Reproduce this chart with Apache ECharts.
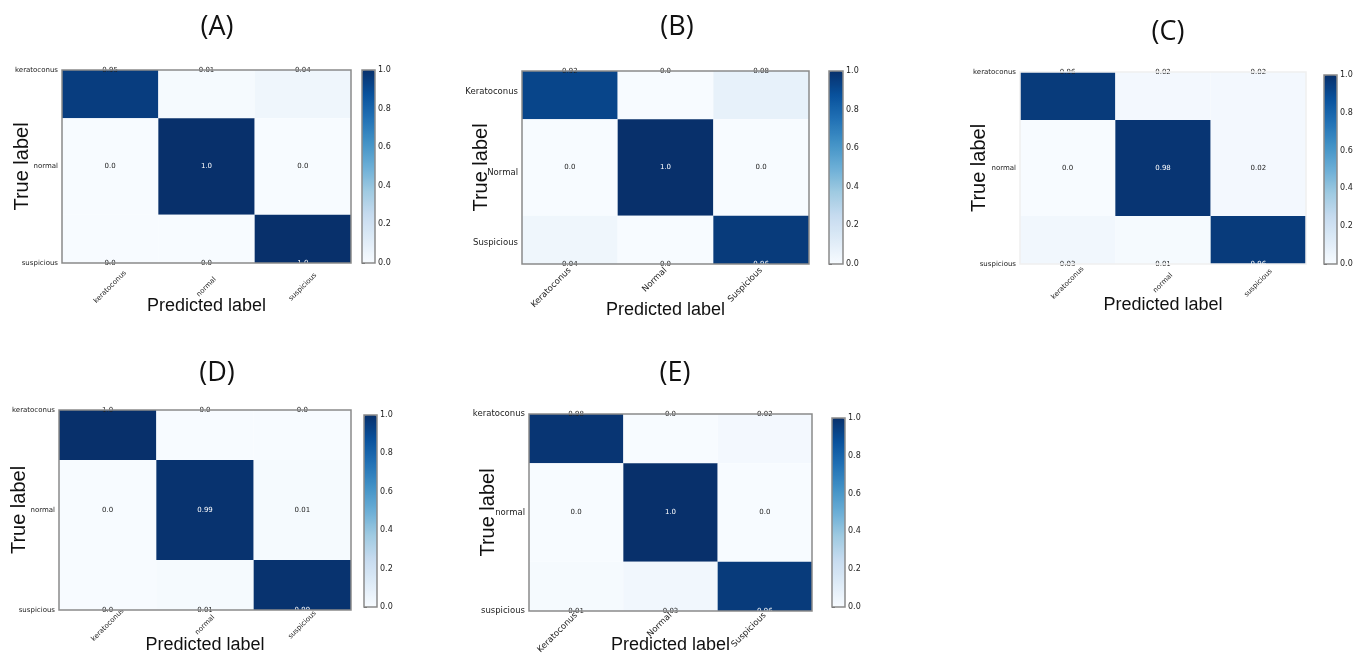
<!DOCTYPE html>
<html>
<head>
<meta charset="utf-8">
<title>Confusion matrices</title>
<script src="https://cdn.jsdelivr.net/npm/echarts@6/dist/echarts.min.js"></script>
<style>
  html, body { margin: 0; padding: 0; background: #ffffff; }
  #chart { width: 1369px; height: 658px; }
</style>
</head>
<body>
<div id="chart"></div>
<script>
// Class names used on the axes
const classesLower = ['keratoconus', 'normal', 'suspicious'];
const classesTitle = ['Keratoconus', 'Normal', 'Suspicious'];

// Panel captions
const panelTitles = ['(A)', '(B)', '(C)', '(D)', '(E)'];

// Normalised confusion matrices (rows = true label, cols = predicted label)
const matrixA = [[0.95, 0.01, 0.04], [0.0, 1.0, 0.0], [0.0, 0.0, 1.0]];
const matrixB = [[0.92, 0.0, 0.08], [0.0, 1.0, 0.0], [0.04, 0.0, 0.96]];
const matrixC = [[0.96, 0.02, 0.02], [0.0, 0.98, 0.02], [0.03, 0.01, 0.96]];
const matrixD = [[1.0, 0.0, 0.0], [0.0, 0.99, 0.01], [0.0, 0.01, 0.99]];
const matrixE = [[0.98, 0.0, 0.02], [0.0, 1.0, 0.0], [0.01, 0.03, 0.96]];

// Colour bar ticks
const colorbarMin = 0;
const colorbarMax = 1;
const colorbarStep = 0.2;

// Matplotlib "Blues" colour map
const blues = ['#f7fbff', '#deebf7', '#c6dbef', '#9ecae1', '#6baed6', '#4292c6', '#2171b5', '#08519c', '#08306b'];

// Layout of each panel: heat map box, colour bar box, label styling
const panels = [
  { m: matrixA, xNames: classesLower, yNames: classesLower, yLabelPos: [0, 1, 2],
    box: [62, 70, 289, 193], cbar: [362, 70, 13, 193], title: [212, 22],
    xCenter: true, xMargin: 24, tickFont: 7, yName: 30, xName: 34, frame: '#8a8a8a' },
  { m: matrixB, xNames: classesTitle, yNames: classesTitle, yLabelPos: [0.22, 1.05, 1.78],
    box: [522, 71, 287, 193], cbar: [829, 71, 14, 193], title: [672, 22],
    xCenter: false, xMargin: 5, tickFont: 8.5, yName: 31, xName: 37, frame: '#8a8a8a' },
  { m: matrixC, xNames: classesLower, yNames: classesLower, yLabelPos: [0, 1, 2],
    box: [1020, 72, 286, 192], cbar: [1324, 75, 13, 189], title: [1163, 27],
    xCenter: true, xMargin: 19, tickFont: 7, yName: 31, xName: 32, frame: '#f0f0f0' },
  { m: matrixD, xNames: classesLower, yNames: classesLower, yLabelPos: [0, 1, 2],
    box: [59, 410, 292, 200], cbar: [364, 415, 13, 192], title: [212, 368],
    xCenter: true, xMargin: 15, tickFont: 7, yName: 30, xName: 26, frame: '#8a8a8a' },
  { m: matrixE, xNames: classesTitle, yNames: classesLower, yLabelPos: [0, 1, 2],
    box: [529, 414, 283, 197], cbar: [832, 418, 13, 189], title: [670, 368],
    xCenter: false, xMargin: 3, tickFont: 8.5, yName: 31, xName: 25, frame: '#8a8a8a' }
];

const fmtCell = v => (v === 0 || v === 1) ? v.toFixed(1) : String(v);

const grid = [], xAxis = [], yAxis = [], series = [], visualMap = [], title = [];

panels.forEach((p, i) => {
  const [l, t, w, h] = p.box;
  const [cl, ct, cw, ch] = p.cbar;
  const hg = grid.length;
  grid.push({ left: l, top: t, width: w, height: h, show: true, z: 5,
              outerBoundsMode: 'none', containLabel: false,
              borderColor: p.frame, borderWidth: 1.5, backgroundColor: 'transparent' });
  xAxis.push({
    gridIndex: hg, type: 'value', min: -0.5, max: 2.5, position: 'bottom',
    name: 'Predicted label', nameLocation: 'middle', nameGap: p.xName, nameMoveOverlap: false,
    nameTextStyle: { fontFamily: 'Liberation Sans', fontSize: 18, color: '#111' },
    axisLine: { show: false }, splitLine: { show: false },
    axisTick: { show: true, customValues: [0, 1, 2], length: 3, lineStyle: { color: '#444' } },
    axisLabel: {
      customValues: [0, 1, 2], rotate: 45, margin: p.xMargin,
      fontFamily: 'DejaVu Sans', fontSize: p.tickFont, color: '#222',
      align: p.xCenter ? 'center' : undefined,
      verticalAlign: p.xCenter ? 'middle' : undefined,
      formatter: v => p.xNames[Math.round(v)]
    }
  });
  yAxis.push({
    gridIndex: hg, type: 'value', min: 0, max: 2, inverse: true,
    name: 'True label', nameLocation: 'middle', nameGap: p.yName, nameRotate: 90,
    nameMoveOverlap: false,
    nameTextStyle: { fontFamily: 'Liberation Sans', fontSize: 20, color: '#111' },
    axisLine: { show: false }, splitLine: { show: false },
    axisTick: { show: true, customValues: p.yLabelPos, length: 3, lineStyle: { color: '#444' } },
    axisLabel: {
      customValues: p.yLabelPos, margin: 4,
      fontFamily: 'DejaVu Sans', fontSize: p.tickFont, color: '#222',
      formatter: v => p.yNames[Math.round(v)]
    }
  });

  // cells: [col, row, value]
  const data = [];
  p.m.forEach((row, r) => row.forEach((v, c) => data.push([c, r, v])));
  const si = series.length;
  series.push({
    type: 'custom', xAxisIndex: hg, yAxisIndex: hg, data: data, z: 2, clip: false,
    renderItem: (params, api) => {
      const c = api.value(0), r = api.value(1), v = api.value(2);
      const p0 = api.coord([c - 0.5, r - 0.5]);
      const p1 = api.coord([c + 0.5, r + 0.5]);
      const cs = params.coordSys;
      const rect = echarts.graphic.clipRectByRect(
        { x: Math.min(p0[0], p1[0]), y: Math.min(p0[1], p1[1]),
          width: Math.abs(p1[0] - p0[0]), height: Math.abs(p1[1] - p0[1]) },
        { x: cs.x, y: cs.y, width: cs.width, height: cs.height });
      const center = api.coord([c, r]);
      const children = [];
      if (rect) {
        children.push({ type: 'rect', shape: rect, style: { fill: api.visual('color') } });
      }
      // top-row values sit on the upper edge, mostly outside the dark cell
      const light = v > 0.5 && r > 0;
      children.push({
        type: 'text', x: center[0], y: center[1], z2: 10,
        style: { text: fmtCell(v), align: 'center', verticalAlign: 'middle',
                 fill: light ? '#ffffff' : '#222222',
                 fontFamily: 'DejaVu Sans', fontSize: 7 }
      });
      return { type: 'group', children: children };
    }
  });

  visualMap.push({
    type: 'continuous', seriesIndex: si, dimension: 2, min: colorbarMin, max: colorbarMax,
    calculable: false, orient: 'vertical', left: cl, top: ct, itemWidth: cw, itemHeight: ch,
    padding: 0, showLabel: false, hoverLink: false,
    inRange: { color: blues }
  });

  // colour bar frame and tick axis
  const cg = grid.length;
  grid.push({ left: cl, top: ct, width: cw, height: ch, show: true, z: 5,
              outerBoundsMode: 'none', containLabel: false,
              borderColor: '#8a8a8a', borderWidth: 1.5, backgroundColor: 'transparent' });
  xAxis.push({ gridIndex: cg, type: 'value', min: 0, max: 1, show: false });
  yAxis.push({
    gridIndex: cg, type: 'value', position: 'right', min: colorbarMin, max: colorbarMax,
    interval: colorbarStep,
    axisLine: { show: false }, splitLine: { show: false },
    axisTick: { show: true, length: 3, lineStyle: { color: '#444' } },
    axisLabel: { margin: 3, fontFamily: 'DejaVu Sans', fontSize: 8, color: '#222',
                 formatter: v => v.toFixed(1) }
  });

  title.push({
    text: panelTitles[i], left: p.title[0], top: p.title[1], textAlign: 'center',
    textVerticalAlign: 'middle',
    textStyle: { fontFamily: 'Open Sans', fontSize: 27, fontWeight: 'normal', color: '#111' }
  });
});

const chart = echarts.init(document.getElementById('chart'), null, { renderer: 'canvas' });
chart.setOption({
  animation: false,
  backgroundColor: '#ffffff',
  title: title,
  grid: grid,
  xAxis: xAxis,
  yAxis: yAxis,
  visualMap: visualMap,
  series: series
});
</script>
</body>
</html>
